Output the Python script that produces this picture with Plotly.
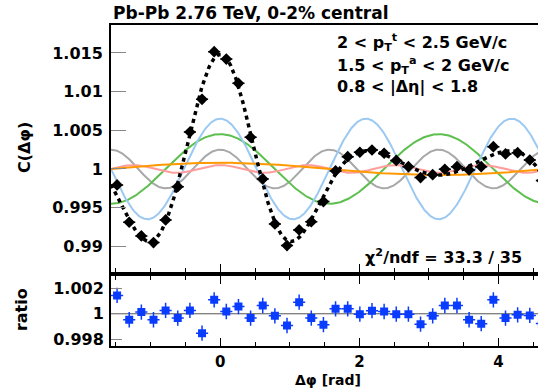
import numpy as np
import plotly.graph_objects as go

# ---------------- data ----------------
n_bins = 36
phi_low = -np.pi / 2
bin_width = 2 * np.pi / n_bins
dphi_centers = phi_low + (np.arange(n_bins) + 0.5) * bin_width

c_values = [0.99793, 0.99311, 0.99134, 0.99048, 0.99341, 0.99771, 1.00478, 1.00900,
            1.01516, 1.01421, 1.01107, 1.00410, 0.99871, 0.99289, 0.99009, 0.99212,
            0.99319, 0.99578, 0.99974, 1.00159, 1.00216, 1.00245, 1.00203, 1.00110,
            1.00030, 0.99888, 0.99926, 0.99996, 1.00030, 0.99987, 1.00030, 1.00288,
            1.00194, 1.00210, 1.00116, 0.99850]
c_error = 0.0006

ratio_values = [1.00144, 0.99953, 1.00013, 0.99953, 1.00026, 0.99966, 1.00026, 0.99848,
                1.00110, 1.00018, 1.00057, 0.99966, 1.00065, 0.99984, 0.99908, 1.00091,
                0.99966, 0.99914, 1.00039, 1.00039, 0.99997, 1.00024, 1.00018, 0.99997,
                0.99997, 0.99918, 0.99984, 1.00065, 1.00065, 0.99953, 0.99922, 1.00110,
                0.99966, 0.99992, 0.99987, 0.99924]
ratio_error = 0.0006

# Fourier fit: 1 + 2 V_n cos(n dphi)
harmonic_orders = [1, 2, 3, 4, 5]
harmonic_2vn = [0.0008, 0.0045, 0.0065, 0.0025, 0.0005]
harmonic_colors = ["#ff9900", "#5cbf4e", "#9cc9f2", "#a8a8a8", "#ff9c9c"]

y_tickvals = [0.99, 0.995, 1.0, 1.005, 1.01, 1.015]
y_ticktext = ["0.99", "0.995", "1", "1.005", "1.01", "1.015"]
r_tickvals = [0.998, 1.0, 1.002]
r_ticktext = ["0.998", "1", "1.002"]
x_tickvals = [0, 2, 4]
x_ticktext = ["0", "2", "4"]

FONT = "DejaVu Sans"

# ---------------- figure ----------------
fig = go.Figure()
grid = np.linspace(-np.pi / 2, 3 * np.pi / 2, 600)

draw_order = [3, 1, 2, 4, 0]
for k in draw_order:
    n = harmonic_orders[k]
    fig.add_trace(go.Scatter(x=grid, y=1 + harmonic_2vn[k] * np.cos(n * grid),
                             mode="lines", line=dict(color=harmonic_colors[k], width=2),
                             xaxis="x", yaxis="y", showlegend=False, hoverinfo="skip"))

fit = np.ones_like(grid)
for n, a in zip(harmonic_orders, harmonic_2vn):
    fit = fit + a * np.cos(n * grid)
fig.add_trace(go.Scatter(x=grid, y=fit, mode="lines",
                         line=dict(color="black", width=3.5, dash="4px,4px"),
                         xaxis="x", yaxis="y", showlegend=False))

fig.add_trace(go.Scatter(x=dphi_centers, y=c_values, mode="markers",
                         marker=dict(symbol="diamond", size=9, color="black"),
                         error_y=dict(type="constant", value=c_error, color="black", thickness=1.5, width=0),
                         error_x=dict(type="constant", value=bin_width / 2, color="black", thickness=1.5, width=0),
                         xaxis="x", yaxis="y", showlegend=False))

fig.add_trace(go.Scatter(x=dphi_centers, y=ratio_values, mode="markers",
                         marker=dict(symbol="square", size=8, color="#0a3cff"),
                         error_y=dict(type="constant", value=ratio_error, color="#0a3cff", thickness=1.5, width=0),
                         error_x=dict(type="constant", value=bin_width / 2, color="#0a3cff", thickness=1.5, width=0),
                         xaxis="x2", yaxis="y2", showlegend=False))

x_range = [-np.pi / 2, -np.pi / 2 + 427 / 69.55]
tickfont = dict(family=FONT, size=16, color="black", weight="bold")

common_x = dict(range=x_range, showgrid=False, zeroline=False, showline=True,
                linecolor="black", linewidth=2, ticks="inside", ticklen=8,
                tickcolor="black", tickwidth=1, tickvals=x_tickvals, ticktext=x_ticktext,
                minor=dict(ticks="inside", ticklen=4, dtick=0.5, tick0=0,
                           tickcolor="black", tickwidth=1, showgrid=False))

fig.update_layout(
    width=538, height=389,
    margin=dict(l=111, r=0, t=25, b=43),
    plot_bgcolor="white", paper_bgcolor="white",
    xaxis=dict(**common_x, anchor="y", mirror=True, showticklabels=False),
    xaxis2=dict(**common_x, anchor="y2", mirror="ticks", showticklabels=True,
                tickfont=dict(family=FONT, size=15, color="black", weight="bold"),
                ticklabelstandoff=1, matches="x"),
    yaxis=dict(domain=[0.2315, 1], range=[0.98672, 1.01861], showgrid=False, zeroline=False,
               showline=True, linecolor="black", linewidth=2, ticks="inside", ticklen=15,
               tickcolor="#888888", tickwidth=1.2, tickvals=y_tickvals, ticktext=y_ticktext,
               tickfont=tickfont, ticklabelstandoff=3, anchor="x"),
    yaxis2=dict(domain=[0, 0.219], range=[0.99747, 1.00299], showgrid=False, zeroline=False,
                showline=True, linecolor="black", linewidth=2, ticks="inside", ticklen=11,
                tickcolor="#888888", tickwidth=1.2, tickvals=r_tickvals, ticktext=r_ticktext,
                tickfont=tickfont, ticklabelstandoff=2, anchor="x2"),
)

fig.add_shape(type="line", xref="x2 domain", yref="y2", x0=0, x1=1, y0=1, y1=1,
              line=dict(color="#555555", width=1), layer="below")


def ann(text, x, y, size=16, xanchor="left", angle=0):
    fig.add_annotation(text=text, x=x, y=y, xref="paper", yref="paper",
                       xanchor=xanchor, yanchor="middle", showarrow=False, textangle=angle,
                       font=dict(family=FONT, size=size, color="black", weight="bold"))


ann("Pb-Pb 2.76 TeV, 0-2% central", 0.0, 1.037, size=17)
ann("2 < p<sub>T</sub><sup>t</sup> < 2.5 GeV/c", 0.5246, 0.944)
ann("1.5 < p<sub>T</sub><sup>a</sup> < 2 GeV/c", 0.5246, 0.875)
ann("0.8 < |Δη| < 1.8", 0.5246, 0.807)
ann("χ<sup>2</sup>/ndf = 33.3 / 35", 0.590, 0.280)
ann("C(Δφ)", -0.2014, 0.617, size=16, xanchor="center", angle=-90)
ann("ratio", -0.2108, 0.115, size=16, xanchor="center", angle=-90)
ann("Δφ [rad]", 0.508, -0.106, size=14, xanchor="center")

fig.write_html("out.html")
